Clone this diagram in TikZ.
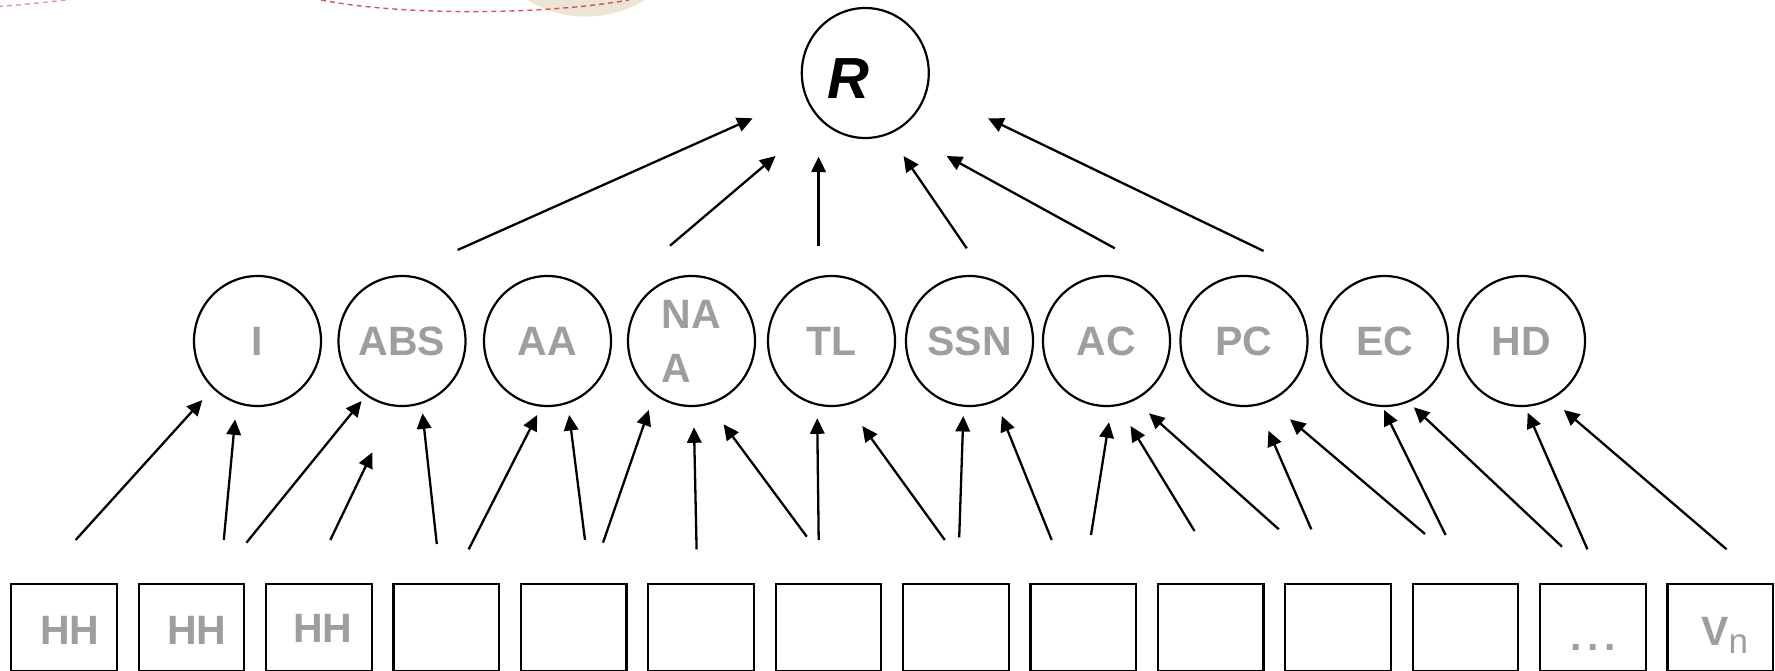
\documentclass[tikz,border=0pt]{standalone}
\usepackage{fontspec}
\setmainfont{Liberation Sans}
\usetikzlibrary{arrows.meta,shapes.geometric}
\definecolor{lblgray}{RGB}{158,158,158}
\definecolor{dashred}{RGB}{214,84,84}
\definecolor{dashpink}{RGB}{232,150,150}
\definecolor{blob}{RGB}{236,228,213}
\begin{document}
\begin{tikzpicture}[x=1pt,y=-1pt,
  varnode/.style={ellipse,draw,line width=2.2pt,minimum width=127pt,minimum height=130pt,
    inner sep=0pt,text=lblgray,font=\fontsize{41}{54}\selectfont\bfseries},
  cell/.style={rectangle,draw,line width=2.2pt,minimum width=105.5pt,minimum height=87pt,inner sep=0pt},
  celltxt/.style={text=lblgray,font=\fontsize{41}{54}\selectfont\bfseries,inner sep=0pt},
  arr/.style={line width=2.3pt,-{Triangle[length=15.5pt,width=14.5pt]}},
]
\useasboundingbox (0,0) rectangle (1775,671);
\clip (0,0) rectangle (1775,671);

% slide decoration along the top edge
\fill[blob] (586,-96) circle (112.6);
\draw[dashred,line width=1.4pt,dash pattern=on 5pt off 4pt]
  (321,0) .. controls (400,15.5) and (540,15.5) .. (629,0);
\draw[dashpink,line width=1.4pt,dash pattern=on 5pt off 4pt]
  (-20,8) .. controls (20,5) .. (75,-1);

% root
\node[varnode] (R) at (865.3,73) {};
\node[inner sep=0pt,font=\fontsize{58}{60}\selectfont\bfseries\itshape] (Rtxt) at (848,79) {R};

% middle layer
\node[varnode] (I)   at (257.5,341)  {I};
\node[varnode] (ABS) at (402,341)    {ABS};
\node[varnode] (AA)  at (547.5,341)  {AA};
\node[varnode,align=left] (NAA) at (691.5,341) {NA\\A};
\node[varnode] (TL)  at (831.5,341)  {TL};
\node[varnode] (SSN) at (969.5,341)  {SSN};
\node[varnode] (AC)  at (1106.5,341) {AC};
\node[varnode] (PC)  at (1244,341)   {PC};
\node[varnode] (EC)  at (1384.5,341) {EC};
\node[varnode] (HD)  at (1521.5,341) {HD};

% bottom row of cells
\foreach \i in {1,...,14}
  \node[cell] (b\i) at ({64.05+127.4*(\i-1)},627.5) {};
\node[celltxt] (hh1) at (69.8,630) {HH};
\node[celltxt] (hh2) at (197,630)  {HH};
\node[celltxt] (hh3) at (323,628)  {HH};
\node[celltxt] (dots) at (1593,647) {.\kern5.6pt.\kern5.6pt.};
\node[celltxt,anchor=base west] (vn) at (1701,645)
  {V\raisebox{-8pt}{\fontsize{35}{35}\selectfont\mdseries n}};

% arrows into the root
\foreach \n/\a/\b/\c/\d in {
  1/457.6/250/752.6/118.3, 2/670/245.7/775.6/156, 3/818.6/245.7/818.6/156.7,
  4/966.7/248.3/903.6/156, 5/1114.8/248.3/946.6/156, 6/1263.6/251/988/118.3}{
  \coordinate (ut\n) at (\a,\b);
  \coordinate (uh\n) at (\c,\d);
  \draw[arr] (ut\n) -- (uh\n);
}

% arrows into the middle layer
\foreach \n/\a/\b/\c/\d in {
  1/75.6/540/202.4/400, 2/223.8/540/235.1/419.3, 3/246.4/542.7/361.5/401,
  4/330.3/540/372.4/452.3, 5/436.8/544/422.5/413.3, 6/468.7/549.3/537.2/415,
  7/585/540/569.2/415, 8/603/542.7/648.9/410, 9/696.6/549.3/694/427.3,
  10/806.8/536.7/723.6/424.3, 11/818.7/540/817.2/418.3, 12/944.8/540/862.3/426,
  13/959.2/537.3/963.3/416, 14/1051.7/540/1001.8/416, 15/1091/535/1109/422.3,
  16/1194.5/531/1130.5/426, 17/1278.8/529.3/1149/413.3, 18/1311.3/529.3/1268.4/430.7,
  19/1425/534/1290/419.3, 20/1445.6/535/1384/410, 21/1562/546.7/1413.9/407.3,
  22/1587.4/549.3/1527.7/412.7, 23/1726.6/549.3/1563.9/410}{
  \coordinate (lt\n) at (\a,\b);
  \coordinate (lh\n) at (\c,\d);
  \draw[arr] (lt\n) -- (lh\n);
}
\end{tikzpicture}
\end{document}
